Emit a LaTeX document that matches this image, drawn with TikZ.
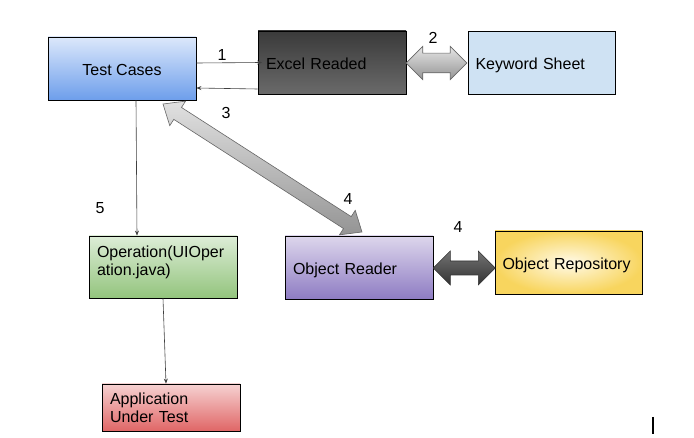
\documentclass[tikz,border=0pt]{standalone}
\usepackage{fontspec}
\setmainfont{Liberation Sans}
\usetikzlibrary{arrows.meta, positioning, shapes.arrows, calc}

\definecolor{tcTop}{HTML}{DCE8FB}
\definecolor{tcBot}{HTML}{6D9EEB}
\definecolor{exTop}{HTML}{3A3A3A}
\definecolor{exBot}{HTML}{6A6A6A}
\definecolor{kwFill}{HTML}{CFE2F3}
\definecolor{opTop}{HTML}{DDEDD7}
\definecolor{opBot}{HTML}{93C47D}
\definecolor{orTop}{HTML}{DDD6EC}
\definecolor{orBot}{HTML}{8E7CC3}
\definecolor{repIn}{HTML}{FFFAE8}
\definecolor{repOut}{HTML}{F8D55E}
\definecolor{apTop}{HTML}{F6D2D2}
\definecolor{apBot}{HTML}{E06666}

\begin{document}
\begin{tikzpicture}[x=1pt, y=-1pt,
    % Box styles
    basebox/.style={draw, line width=0.8pt, font=\fontsize{16}{18}\selectfont, inner sep=0pt,
                minimum width=148pt, minimum height=63pt},
    box/.style={basebox, text height=13.5pt, text depth=0pt},
    leftbox/.style={box, text width=132pt, align=left},
    % Connector styles
    flow/.style={->, >={Stealth[length=5pt, width=4pt]}, draw=black!75, line width=0.6pt},
    blockarrow/.style={double arrow, draw=black!60, line width=0.6pt, inner sep=0pt},
    lbl/.style={font=\fontsize{16}{18}\selectfont, inner sep=0pt}
]
\useasboundingbox (0,0) rectangle (694,438);

% Top row
\node[box, top color=tcTop, bottom color=tcBot] (tests) at (122,68.5) {Test Cases};
\node[leftbox, top color=exTop, bottom color=exBot] (excel) at (332,62.5) {Excel Readed};
\node[leftbox, fill=kwFill, minimum width=147pt] (keywords) at (541.5,62.5) {Keyword Sheet};

% Middle row
\node[basebox, inner sep=8pt, top color=opTop, bottom color=opBot, minimum height=62pt] (operation) at (163,267)
    {\parbox[c][46pt][t]{132pt}{\vspace*{2pt}Operation(UIOper\\ation.java)}};
\node[leftbox, top color=orTop, bottom color=orBot] (objreader) at (359,267.5) {Object Reader};
\node[leftbox, shading=radial, inner color=repIn, outer color=repOut, minimum width=147pt] (objrepo) at (568.5,262.5) {Object Repository};

% Bottom
\node[basebox, text width=122pt, align=left, top color=apTop, bottom color=apBot,
      minimum width=138pt, minimum height=47pt] (app) at (171,407.5) {Application\\Under Test};

% Thin connectors
\draw[flow] ([yshift=5.5pt]tests.east) -- ([xshift=4.5pt]excel.west);
\draw[flow] ([yshift=-26.5pt]excel.west) -- ([yshift=-19.5pt]tests.east);
\draw[flow] ([xshift=14pt]tests.south) -- ([xshift=-26pt]operation.north);
\draw[flow] (operation.south) -- ([xshift=-5pt]app.north);

% Block arrows
\node[blockarrow, top color=black!10, bottom color=black!42, inner ysep=9.5pt,
      double arrow head extend=6.8pt, minimum height=60.7pt] (kwlink) at (436.5,63) {};
\node[blockarrow, top color=black!12, bottom color=black!42, inner ysep=6.8pt,
      double arrow head extend=7.5pt, double arrow tip angle=80, minimum height=236.6pt,
      rotate=-32.75] (readlink) at (262.5,168) {};
\node[blockarrow, draw=black!80, top color=black!55, bottom color=black!80, inner ysep=6.7pt,
      double arrow head extend=10pt, minimum height=62pt] (repolink) at (464.3,268) {};

% Step numbers
\node[lbl] (n1) at (222,55) {1};
\node[lbl] (n2) at (433,38) {2};
\node[lbl] (n3) at (226,113) {3};
\node[lbl] (n4a) at (348,199) {4};
\node[lbl] (n4b) at (458,227) {4};
\node[lbl] (n5) at (100,208) {5};

% Cursor mark
\draw[line width=2pt] (653,417) -- (653,434);

\end{tikzpicture}
\end{document}
